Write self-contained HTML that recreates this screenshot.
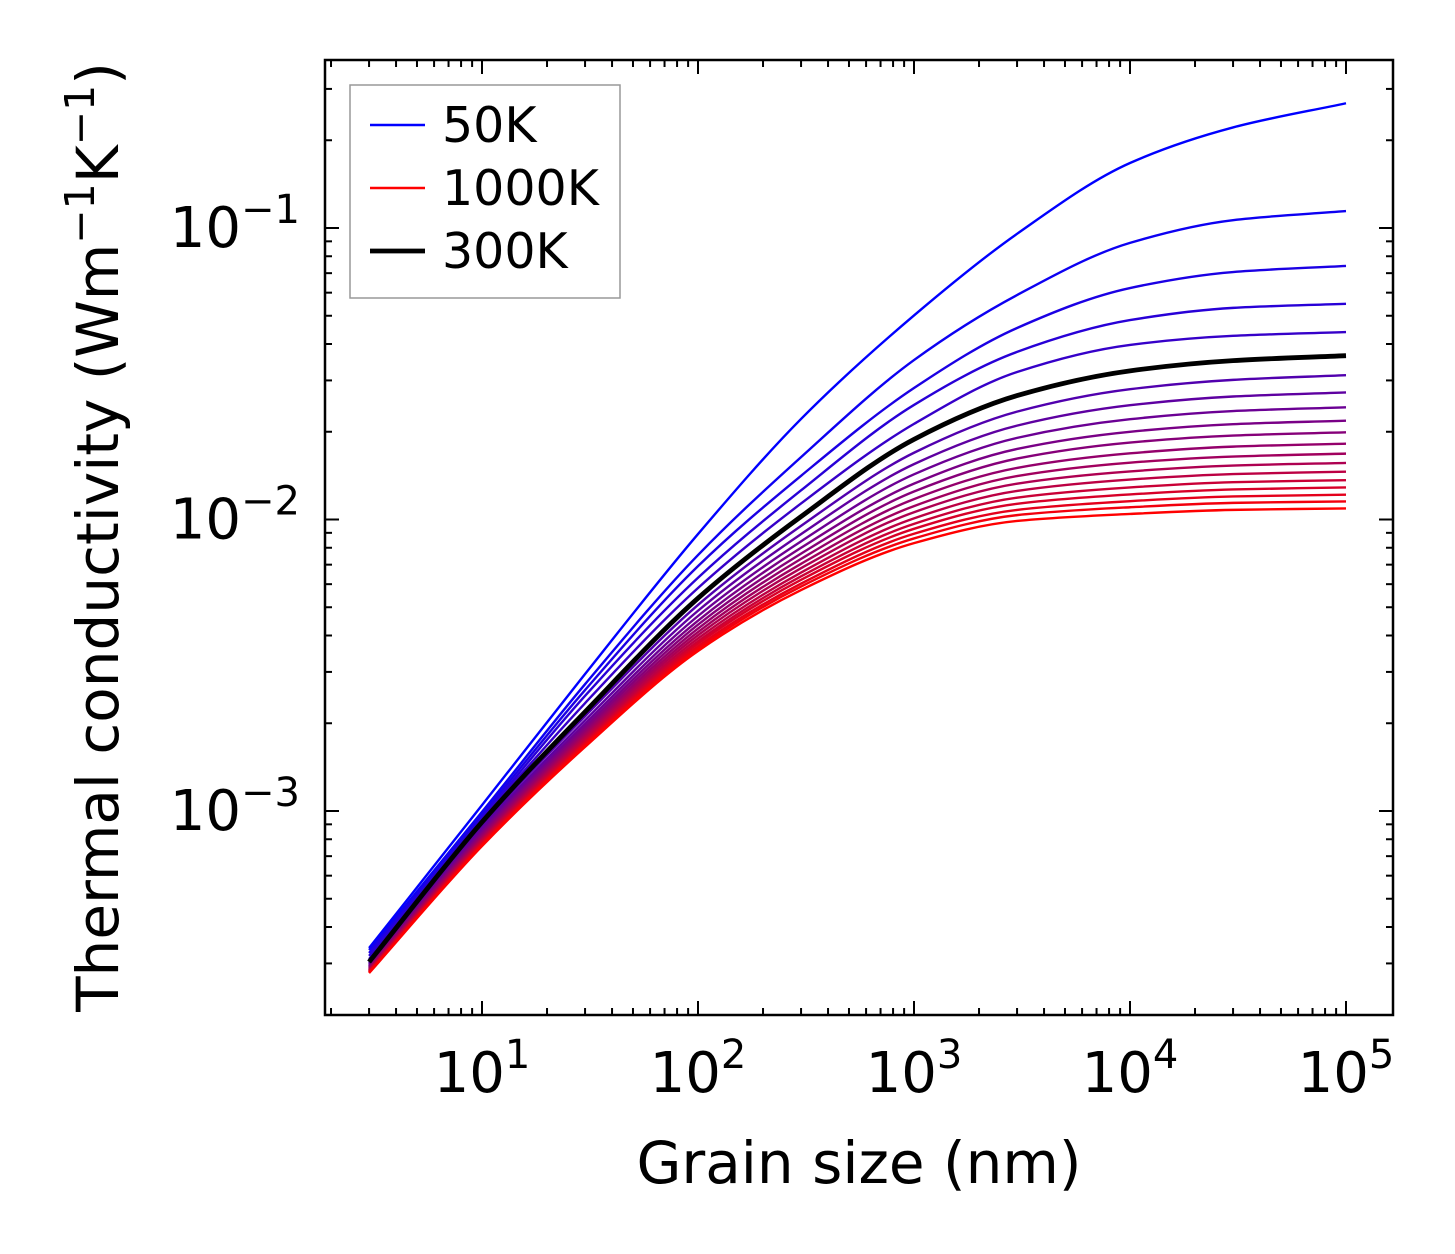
<!DOCTYPE html>
<html><head><meta charset="utf-8">
<style>
html,body{margin:0;padding:0;background:#fff;}
svg{display:block;font-family:"DejaVu Sans","Liberation Sans",sans-serif;}
</style></head>
<body>
<svg id="chart" width="1455" height="1254" viewBox="0 0 1455 1254" xmlns="http://www.w3.org/2000/svg">
  <rect x="0" y="0" width="1455" height="1254" fill="#fff"/>
  <g id="curves"></g>
  <g id="ticks"></g>
  <rect x="325" y="60" width="1068" height="955" fill="none" stroke="#000" stroke-width="2.5"/>
  <g id="labels"></g>
  <text x="859" y="1183" font-size="58" text-anchor="middle">Grain size (nm)</text>
  <text transform="translate(118,537) rotate(-90)" font-size="58" text-anchor="middle">Thermal conductivity (Wm<tspan dy="-24" font-size="41">−1</tspan><tspan dy="24">K</tspan><tspan dy="-24" font-size="41">−1</tspan><tspan dy="24">)</tspan></text>
  <g>
    <rect x="350" y="85" width="270" height="213" fill="#fff" stroke="#999" stroke-width="1.5"/>
    <g>
      <line x1="370" y1="125" x2="425" y2="125" stroke="rgb(0,0,255)" stroke-width="2.4"/>
      <text x="442" y="142" font-size="49">50K</text>
    </g>
    <g>
      <line x1="370" y1="188" x2="425" y2="188" stroke="rgb(255,0,0)" stroke-width="2.4"/>
      <text x="442" y="205" font-size="49">1000K</text>
    </g>
    <g>
      <line x1="370" y1="251" x2="425" y2="251" stroke="#000" stroke-width="4.8"/>
      <text x="442" y="268" font-size="49">300K</text>
    </g>
  </g>
</svg>
<script>
// ---- data (thermal conductivity stored as log10 of W m^-1 K^-1) ----
const grainSizes = [3, 10, 30, 100, 300, 1000, 3000, 10000, 30000, 100000];
const temperatures = [50,100,150,200,250,300,350,400,450,500,550,600,650,700,750,800,850,900,950,1000];
const logK50   = [-3.470,-2.980,-2.530,-2.050,-1.655,-1.300,-1.020,-0.777,-0.655,-0.572];
const logK100  = [-3.477,-3.003,-2.565,-2.122,-1.786,-1.453,-1.230,-1.051,-0.973,-0.942];
const logK150  = [-3.487,-3.014,-2.585,-2.160,-1.850,-1.549,-1.343,-1.206,-1.151,-1.130];
const logK200  = [-3.497,-3.024,-2.605,-2.200,-1.900,-1.607,-1.425,-1.316,-1.274,-1.260];
const logK250  = [-3.508,-3.031,-2.630,-2.235,-1.945,-1.672,-1.494,-1.401,-1.370,-1.357];
const logK300  = [-3.518,-3.038,-2.660,-2.270,-1.990,-1.725,-1.575,-1.490,-1.455,-1.438];
const logK350  = [-3.523,-3.048,-2.675,-2.293,-2.022,-1.771,-1.630,-1.553,-1.521,-1.505];
const logK400  = [-3.527,-3.058,-2.689,-2.313,-2.050,-1.810,-1.678,-1.608,-1.578,-1.564];
const logK450  = [-3.531,-3.066,-2.701,-2.331,-2.075,-1.845,-1.720,-1.656,-1.628,-1.615];
const logK500  = [-3.534,-3.073,-2.711,-2.347,-2.097,-1.877,-1.758,-1.699,-1.673,-1.661];
const logK550  = [-3.537,-3.079,-2.720,-2.361,-2.117,-1.904,-1.791,-1.736,-1.712,-1.701];
const logK600  = [-3.540,-3.085,-2.729,-2.374,-2.135,-1.930,-1.823,-1.773,-1.750,-1.740];
const logK650  = [-3.542,-3.091,-2.737,-2.386,-2.152,-1.954,-1.851,-1.805,-1.784,-1.774];
const logK700  = [-3.545,-3.096,-2.744,-2.397,-2.167,-1.975,-1.877,-1.835,-1.815,-1.806];
const logK750  = [-3.547,-3.100,-2.751,-2.408,-2.182,-1.996,-1.902,-1.863,-1.844,-1.836];
const logK800  = [-3.549,-3.105,-2.758,-2.418,-2.195,-2.015,-1.925,-1.890,-1.872,-1.865];
const logK850  = [-3.551,-3.109,-2.764,-2.426,-2.207,-2.032,-1.946,-1.914,-1.897,-1.890];
const logK900  = [-3.553,-3.113,-2.769,-2.435,-2.220,-2.049,-1.967,-1.937,-1.921,-1.915];
const logK950  = [-3.554,-3.116,-2.774,-2.443,-2.230,-2.065,-1.985,-1.958,-1.943,-1.938];
const logK1000 = [-3.556,-3.120,-2.780,-2.451,-2.242,-2.081,-2.005,-1.981,-1.967,-1.962];
const series = [logK50,logK100,logK150,logK200,logK250,logK300,logK350,logK400,logK450,logK500,logK550,logK600,logK650,logK700,logK750,logK800,logK850,logK900,logK950,logK1000];
const highlightTemp = 300;
const xMajorExps = [1,2,3,4,5];
const yMajorExps = [-1,-2,-3];

// ---- axes ----
const PL=325, PR=1393, PT=60, PB=1015;
const X10=482, XDEC=216;
const YM1=228, YDEC=291.5;
function xs(v){ return X10 + (Math.log10(v)-1)*XDEC; }
function ysLog(l){ return YM1 - (l+1)*YDEC; }
function ys(v){ return ysLog(Math.log10(v)); }
const NS="http://www.w3.org/2000/svg";
function mk(tag, attrs, parent){ const e=document.createElementNS(NS,tag); for(const k in attrs) e.setAttribute(k,attrs[k]); parent.appendChild(e); return e; }

function monoPath(pts){
  const n=pts.length; const dx=[],dy=[],m=[],t=[];
  for(let i=0;i<n-1;i++){dx[i]=pts[i+1][0]-pts[i][0];dy[i]=pts[i+1][1]-pts[i][1];m[i]=dy[i]/dx[i];}
  t[0]=m[0]; t[n-1]=m[n-2];
  for(let i=1;i<n-1;i++){ if(m[i-1]*m[i]<=0) t[i]=0; else { const w1=2*dx[i]+dx[i-1], w2=dx[i]+2*dx[i-1]; t[i]=(w1+w2)/(w1/m[i-1]+w2/m[i]); } }
  let d="M"+pts[0][0].toFixed(2)+","+pts[0][1].toFixed(2);
  for(let i=0;i<n-1;i++){ const h=dx[i]/3;
    d+=" C"+(pts[i][0]+h).toFixed(2)+","+(pts[i][1]+t[i]*h).toFixed(2)+" "+(pts[i+1][0]-h).toFixed(2)+","+(pts[i+1][1]-t[i+1]*h).toFixed(2)+" "+pts[i+1][0].toFixed(2)+","+pts[i+1][1].toFixed(2); }
  return d;
}

const cg=document.getElementById('curves');
let hiIdx=-1;
series.forEach((vals,i)=>{
  const t=i/(series.length-1);
  const col="rgb("+Math.round(255*t)+",0,"+Math.round(255*(1-t))+")";
  const pts=grainSizes.map((g,j)=>[xs(g),ysLog(vals[j])]);
  const p=mk('path',{d:monoPath(pts),fill:"none",stroke:col,"stroke-width":"2.4"},cg);
  
  
  if(temperatures[i]===highlightTemp) hiIdx=i;
});
if(hiIdx>=0){
  const pts=grainSizes.map((g,j)=>[xs(g),ysLog(series[hiIdx][j])]);
  const p=mk('path',{d:monoPath(pts),fill:"none",stroke:"#000","stroke-width":"4.8"},cg);
  
  
}

const tg=document.getElementById('ticks');
function tick(x1,y1,x2,y2){ mk('line',{x1:x1,y1:y1,x2:x2,y2:y2,stroke:"#000","stroke-width":"2"},tg); }
for(let e=0;e<=5;e++){
  for(let m=1;m<10;m++){
    const v=m*Math.pow(10,e); const x=xs(v);
    if(x<PL+1||x>PR-1) continue;
    const L=(m===1)?14:7;
    tick(x,PB,x,PB-L); tick(x,PT,x,PT+L);
  }
}
for(let e=-4;e<=0;e++){
  for(let m=1;m<10;m++){
    const v=m*Math.pow(10,e); const y=ys(v);
    if(y<PT+1||y>PB-0.5) continue;
    const L=(m===1)?14:7;
    tick(PL,y,PL+L,y); tick(PR,y,PR-L,y);
  }
}

const lg=document.getElementById('labels');
xMajorExps.forEach(e=>{
  const t=mk('text',{x:xs(Math.pow(10,e)),y:1092,"font-size":"56","text-anchor":"middle"},lg);
  
  
  t.appendChild(document.createTextNode("10"));
  const s=mk('tspan',{dy:"-24","font-size":"40"},t); s.textContent=String(e);
});
yMajorExps.forEach(e=>{
  const t=mk('text',{x:300,y:ys(Math.pow(10,e))+19,"font-size":"56","text-anchor":"end"},lg);
  
  
  t.appendChild(document.createTextNode("10"));
  const s=mk('tspan',{dy:"-24","font-size":"40"},t); s.textContent="−"+Math.abs(e);
});
</script>
</body></html>
